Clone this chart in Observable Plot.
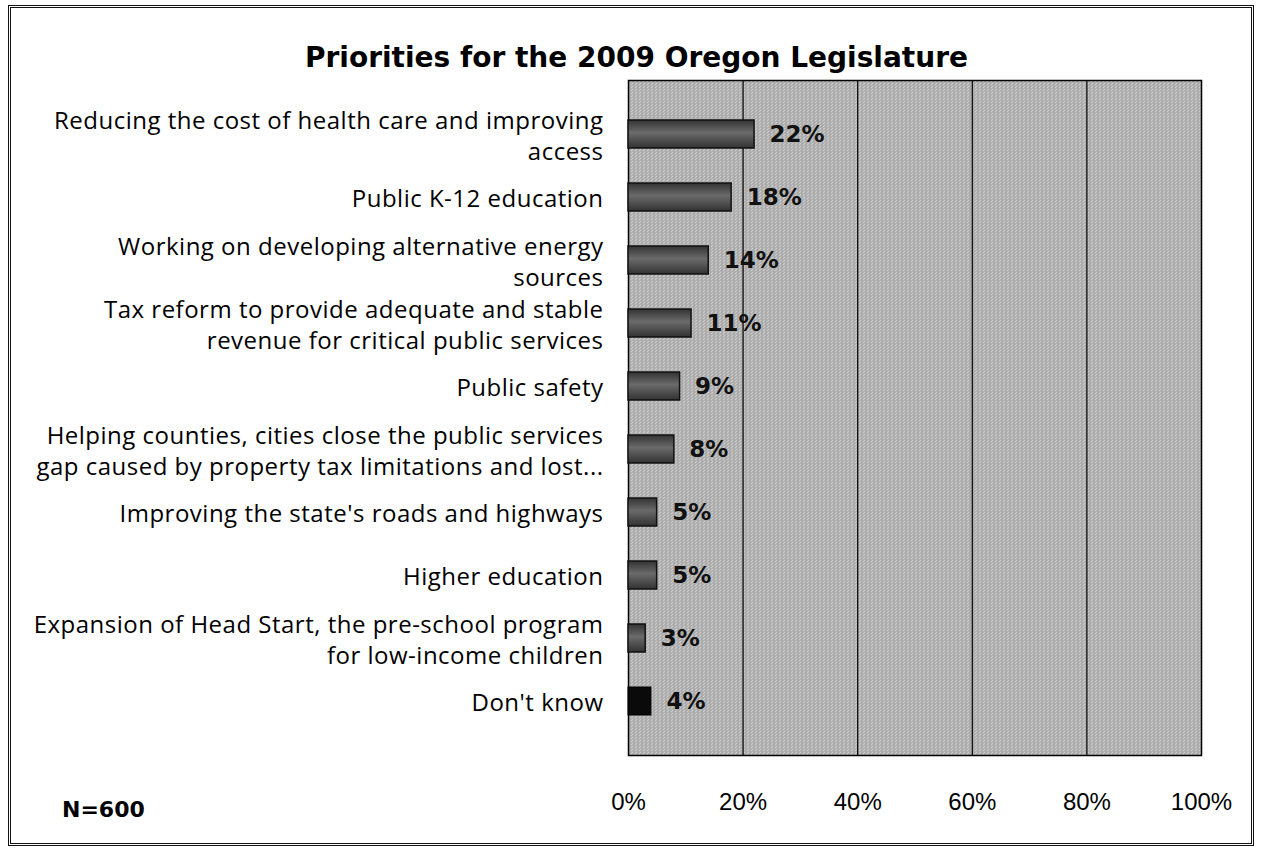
<!DOCTYPE html>
<html>
<head>
<meta charset="utf-8">
<script src="https://cdn.jsdelivr.net/npm/d3@7"></script>
<script src="https://cdn.jsdelivr.net/npm/@observablehq/plot@0.6"></script>
<style>
  html, body { margin: 0; padding: 0; background: #fff; }
  #wrap { position: relative; width: 1261px; height: 853px; overflow: hidden; }
  #border { position: absolute; left: 8px; top: 5px; width: 1240px; height: 835px; border: 3px double #111; pointer-events: none; }
  #title { position: absolute; left: 0; width: 1261px; top: 41px; text-align: center; font-family: "DejaVu Sans", sans-serif; font-weight: bold; font-size: 28px; color: #000; padding-left: 12px; box-sizing: border-box; }
  #note { position: absolute; left: 62px; top: 797px; font-family: "DejaVu Sans", sans-serif; font-weight: bold; font-size: 22px; color: #000; }
  #chart { position: absolute; left: 0; top: 0; }
</style>
</head>
<body>
<div id="wrap">
  <div id="chart"></div>
  <div id="title">Priorities for the 2009 Oregon Legislature</div>
  <div id="note">N=600</div>
  <div id="border"></div>
</div>
<script>
const categories = [
  "Reducing the cost of health care and improving\naccess",
  "Public K-12 education",
  "Working on developing alternative energy\nsources",
  "Tax reform to provide adequate and stable\nrevenue for critical public services",
  "Public safety",
  "Helping counties, cities close the public services\ngap caused by property tax limitations and lost...",
  "Improving the state's roads and highways",
  "Higher education",
  "Expansion of Head Start, the pre-school program\nfor low-income children",
  "Don't know"
];
const values = [22, 18, 14, 11, 9, 8, 5, 5, 3, 4];
const xTicks = [0, 20, 40, 60, 80, 100];
const gridTicks = [20, 40, 60, 80];

const data = categories.map((c, i) => ({cat: c, value: values[i]}));
const lastCat = categories[categories.length - 1];

const chart = Plot.plot({
  width: 1261,
  height: 853,
  marginLeft: 628,
  marginRight: 60,
  marginTop: 80,
  marginBottom: 98,
  style: {background: "transparent", color: "#000"},
  x: {domain: [0, 100], label: null},
  y: {domain: categories, padding: 0.55, label: null},
  marks: [
    Plot.frame({fill: "url(#dither)", stroke: "none"}),
    Plot.gridX(gridTicks, {stroke: "#000", strokeOpacity: 1, strokeWidth: 1.2}),
    Plot.frame({stroke: "#000", strokeWidth: 1.5}),
    Plot.barX(data.filter(d => d.cat !== lastCat), {x: "value", y: "cat", fill: "url(#barGrad)", stroke: "#111", strokeWidth: 1.5}),
    Plot.barX(data.filter(d => d.cat === lastCat), {x: "value", y: "cat", fill: "#0a0a0a", stroke: "#000"}),
    Plot.text(data, {x: "value", y: "cat", text: d => d.value + "%", textAnchor: "start", dx: 15, fontWeight: "bold", fontSize: 23, fontFamily: "DejaVu Sans", fill: "#111"}),
    Plot.axisY({tickSize: 0, tickPadding: 25, fontSize: 24, fontFamily: "Open Sans", lineHeight: 1.28, label: null}),
    Plot.axisX(xTicks, {tickSize: 0, tickPadding: 37, tickFormat: d => d + "%", fontSize: 24, fontFamily: "Liberation Sans", label: null})
  ]
});

const svg = d3.select(chart);
svg.selectAll('g[aria-label="y-axis tick label"] text').style("letter-spacing", "0.5px");
const defs = svg.insert("defs", ":first-child");
const pat = defs.append("pattern").attr("id", "dither").attr("patternUnits", "userSpaceOnUse").attr("width", 4).attr("height", 3);
pat.append("rect").attr("width", 4).attr("height", 3).attr("fill", "#c2c2c2");
pat.append("rect").attr("x", 0).attr("y", 0).attr("width", 1).attr("height", 1).attr("fill", "#7a7a7a");
pat.append("rect").attr("x", 2).attr("y", 1).attr("width", 1).attr("height", 1).attr("fill", "#7a7a7a");
pat.append("rect").attr("x", 1).attr("y", 2).attr("width", 1).attr("height", 1).attr("fill", "#8a8a8a");
pat.append("rect").attr("x", 3).attr("y", 2).attr("width", 1).attr("height", 1).attr("fill", "#e0e0e0");
const grad = defs.append("linearGradient").attr("id", "barGrad").attr("x1", 0).attr("y1", 0).attr("x2", 0).attr("y2", 1);
grad.append("stop").attr("offset", "0%").attr("stop-color", "#333");
grad.append("stop").attr("offset", "45%").attr("stop-color", "#6a6a6a");
grad.append("stop").attr("offset", "100%").attr("stop-color", "#333");

document.getElementById("chart").appendChild(chart);
</script>
</body>
</html>
